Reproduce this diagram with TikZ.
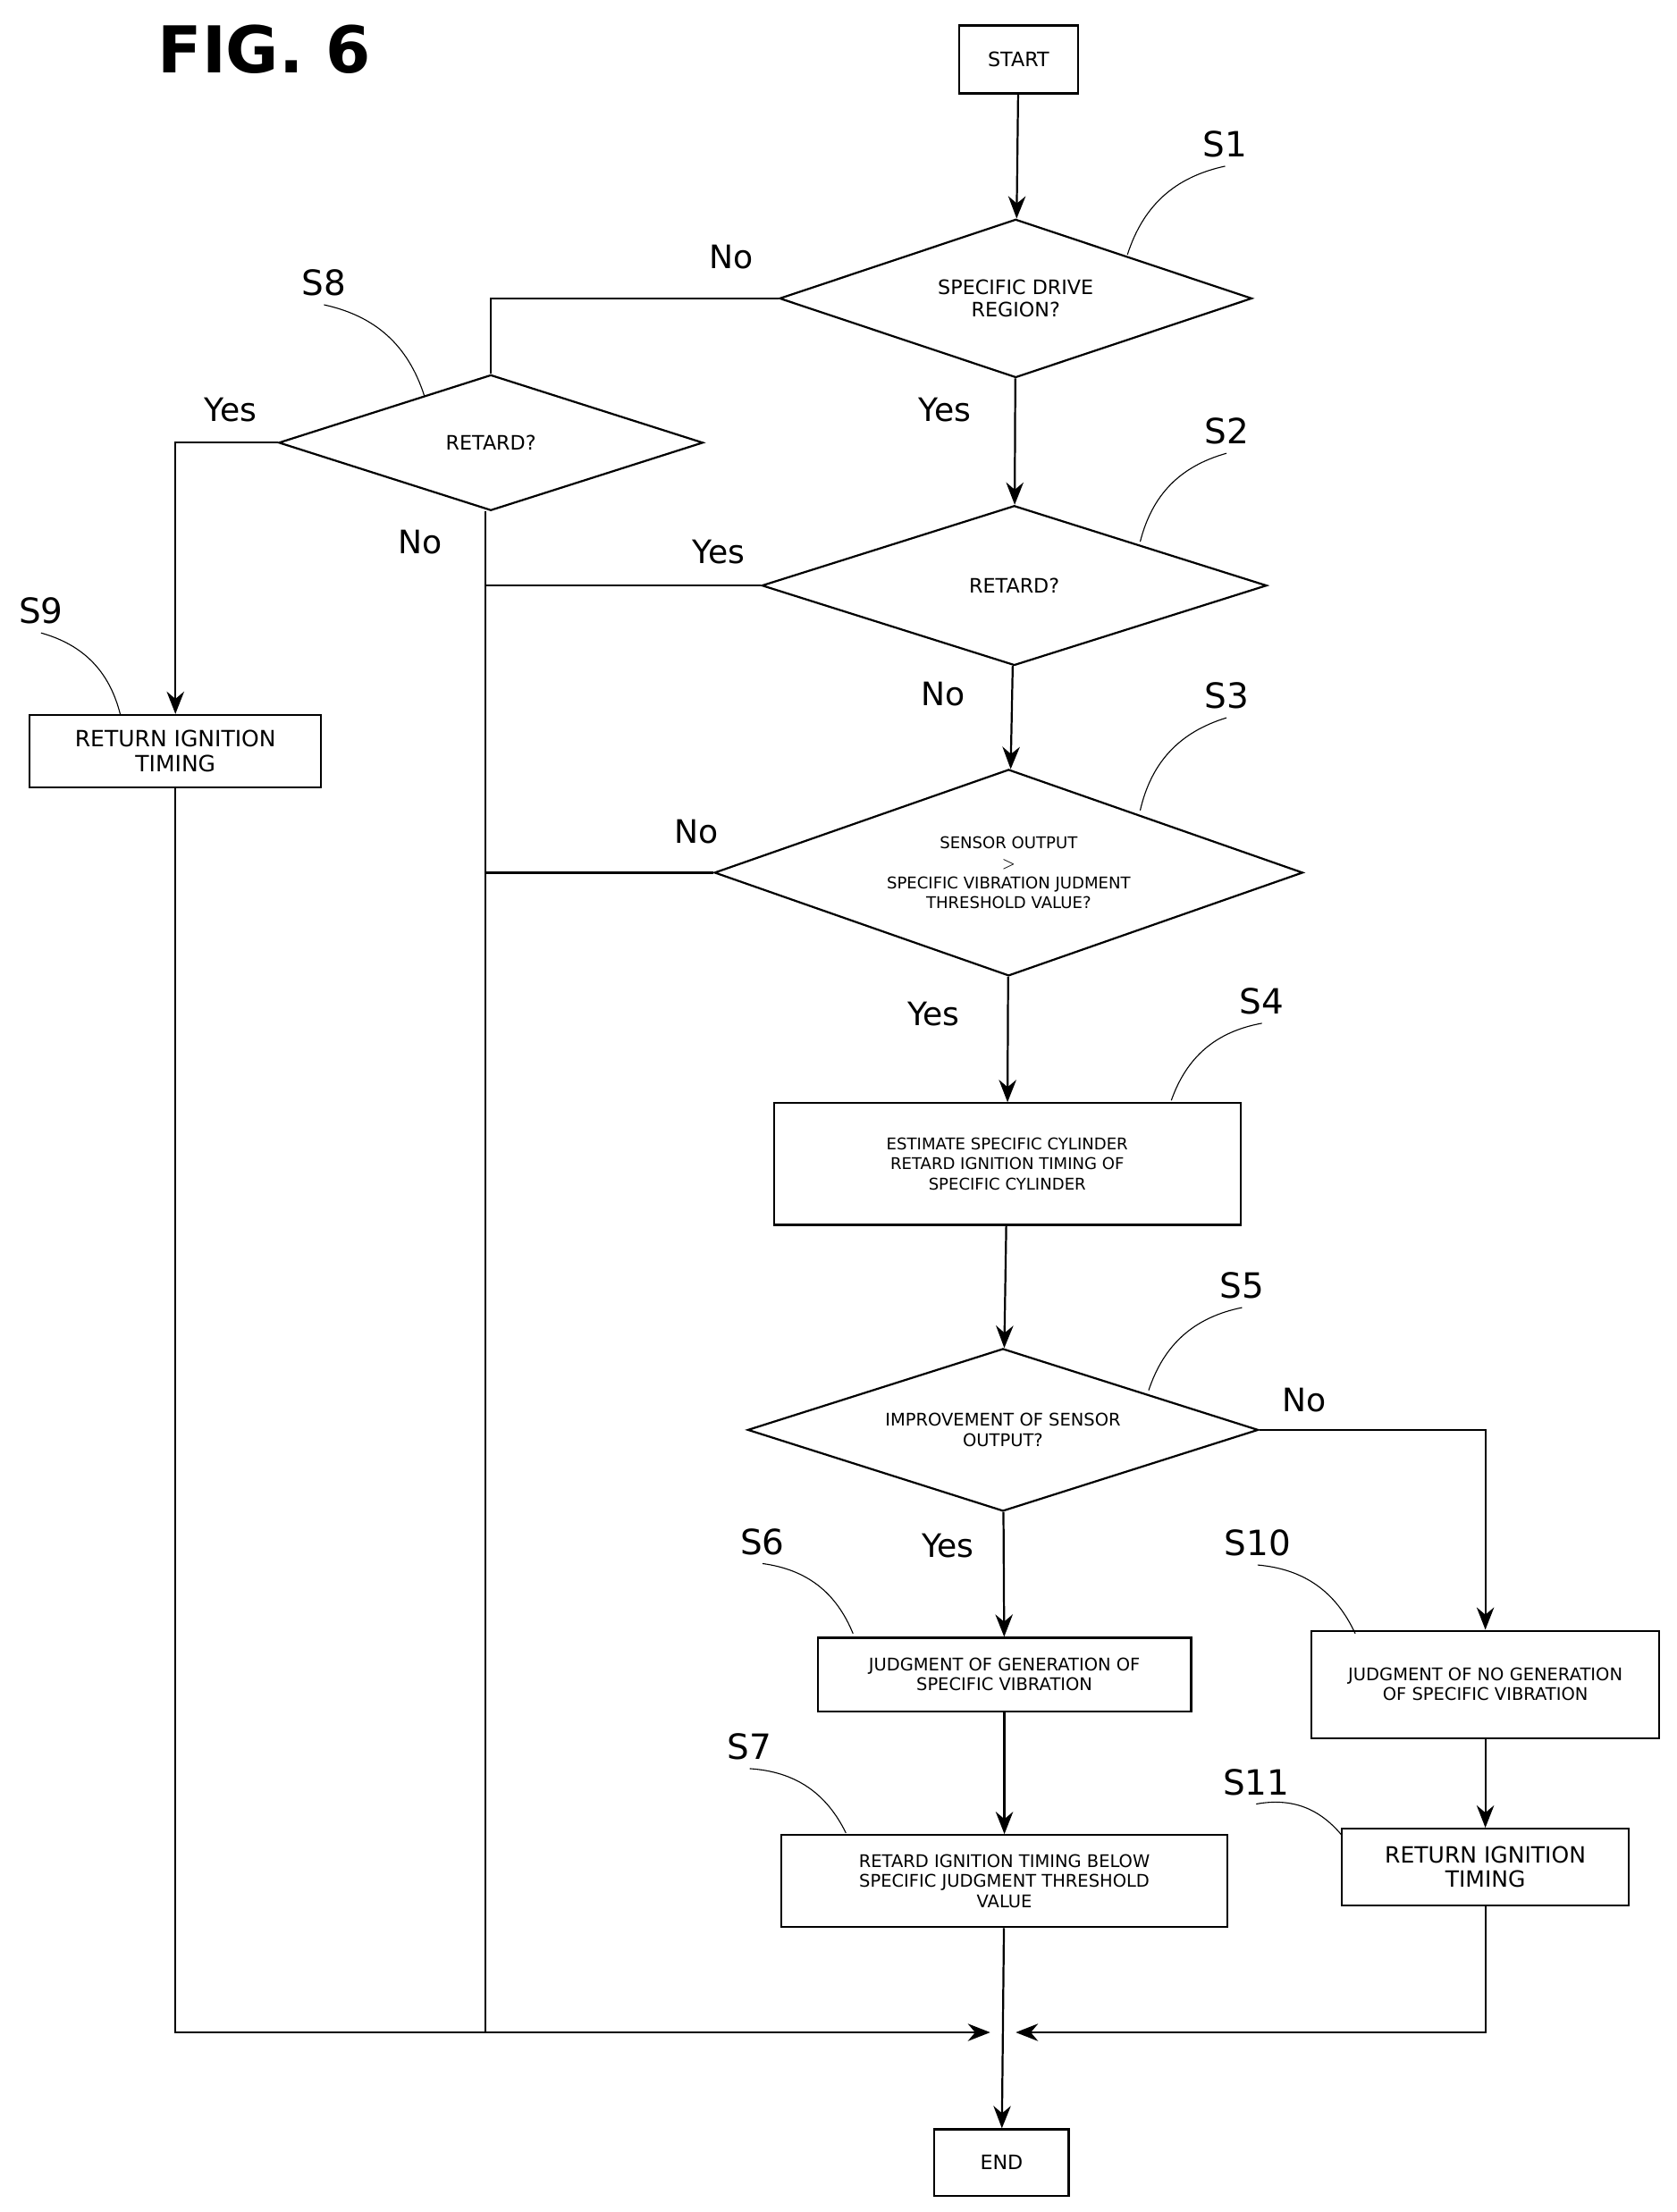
\documentclass[tikz,border=0pt]{standalone}
\usepackage{fontspec}
\setmainfont{DejaVu Sans}
\usetikzlibrary{shapes.geometric,arrows.meta}
\tikzset{
  box/.style={draw,thick,rectangle,align=center,font=\fontsize{8}{9}\selectfont,inner sep=1pt},
  dia/.style={draw,thick,diamond,align=center,font=\fontsize{8}{9}\selectfont,inner sep=0pt,aspect=3},
  flow/.style={thick,-{Stealth[length=9pt,width=7pt]}},
  tag/.style={font=\fontsize{14}{16}\selectfont},
  ans/.style={font=\fontsize{13}{15}\selectfont},
}
\begin{document}
\begin{tikzpicture}[x=0.02cm,y=-0.02cm]
\useasboundingbox (0,0) rectangle (1185,1564);
\node[font=\fontsize{26}{28}\selectfont\bfseries] (fig) at (187,35) {FIG. 6};
% boxes and decisions
\node[box,minimum width=1.68cm,minimum height=0.96cm] (start) at (720,42) {START};
\node[dia,minimum width=6.68cm,minimum height=2.24cm] (s1) at (718,211) {SPECIFIC DRIVE\\REGION?};
\node[dia,minimum width=6.0cm,minimum height=1.92cm] (s8) at (347,313) {RETARD?};
\node[dia,minimum width=7.14cm,minimum height=2.26cm] (s2) at (717,414) {RETARD?};
\node[dia,minimum width=8.32cm,minimum height=2.92cm,font=\fontsize{6.5}{8}\selectfont] (s3) at (713,617) {SENSOR OUTPUT\\$>$\\SPECIFIC VIBRATION JUDMENT\\THRESHOLD VALUE?};
\node[box,minimum width=6.6cm,minimum height=1.72cm,font=\fontsize{6.5}{8}\selectfont] (s4) at (712,823) {ESTIMATE SPECIFIC CYLINDER\\RETARD IGNITION TIMING OF\\SPECIFIC CYLINDER};
\node[dia,minimum width=7.22cm,minimum height=2.3cm,font=\fontsize{7}{8}\selectfont] (s5) at (709,1011) {IMPROVEMENT OF SENSOR\\OUTPUT?};
\node[box,minimum width=5.28cm,minimum height=1.04cm,font=\fontsize{7}{8}\selectfont] (s6) at (710,1184) {JUDGMENT OF GENERATION OF\\SPECIFIC VIBRATION};
\node[box,minimum width=4.92cm,minimum height=1.52cm,font=\fontsize{7}{8}\selectfont] (s10) at (1050,1191) {JUDGMENT OF NO GENERATION\\OF SPECIFIC VIBRATION};
\node[box,minimum width=6.3cm,minimum height=1.3cm,font=\fontsize{7}{8}\selectfont] (s7) at (710,1330) {RETARD IGNITION TIMING BELOW\\SPECIFIC JUDGMENT THRESHOLD\\VALUE};
\node[box,minimum width=4.06cm,minimum height=1.08cm,font=\fontsize{9}{10}\selectfont] (s11) at (1050,1320) {RETURN IGNITION\\TIMING};
\node[box,minimum width=4.12cm,minimum height=1.02cm,font=\fontsize{9}{10}\selectfont] (s9) at (124,531) {RETURN IGNITION\\TIMING};
\node[box,minimum width=1.9cm,minimum height=0.94cm] (end) at (708,1529) {END};
\coordinate (ml) at (700,1437);
\coordinate (mr) at (718,1437);
\coordinate (lb) at (343,1437);
% connectors
\draw[flow] (start) -- (s1);
\draw[flow] (s1) -- (s2);
\draw[flow] (s2) -- (s3);
\draw[flow] (s3) -- (s4);
\draw[flow] (s4) -- (s5);
\draw[flow] (s5) -- (s6);
\draw[flow] (s6) -- (s7);
\draw[flow] (s7) -- (end);
\draw[flow] (s10) -- (s11);
\draw[thick] (s1.west) -| (s8.north);
\draw[flow] (s8.west) -| (s9.north);
\draw[flow] (s9.south) |- (ml);
\draw[thick] (s8.south -| lb) -- (lb);
\draw[thick] (s2.west) -- (s2.west -| lb);
\draw[thick] (s3.west) -- (s3.west -| lb);
\draw[flow] (s5.east) -| (s10.north);
\draw[flow] (s11.south) |- (mr);
% answers
\node[ans] (a1) at (517,182) {No};
\node[ans] (a2) at (668,290) {Yes};
\node[ans] (a3) at (163,290) {Yes};
\node[ans] (a4) at (297,383) {No};
\node[ans] (a5) at (508,390) {Yes};
\node[ans] (a6) at (667,491) {No};
\node[ans] (a7) at (492,588) {No};
\node[ans] (a8) at (660,717) {Yes};
\node[ans] (a9) at (922,990) {No};
\node[ans] (a10) at (670,1093) {Yes};
% step tags
\foreach \t/\x/\y/\ex/\ey/\bend in {S1/866/102/797/180/-30, S8/229/200/300/280/30, S2/867/305/806/383/-30,
  S9/29/432/85/505/30, S3/867/492/806/573/-30, S4/892/708/828/778/-30, S5/878/909/812/983/-30,
  S6/539/1090/603/1155/30, S10/889/1091/958/1155/30, S7/530/1235/598/1296/30, S11/888/1260/948/1297/30}{
  \node[tag] (tag\t) at (\x,\y) {\t};
  \draw (tag\t.south) to[bend left=\bend] (\ex,\ey);
}
\end{tikzpicture}
\end{document}
